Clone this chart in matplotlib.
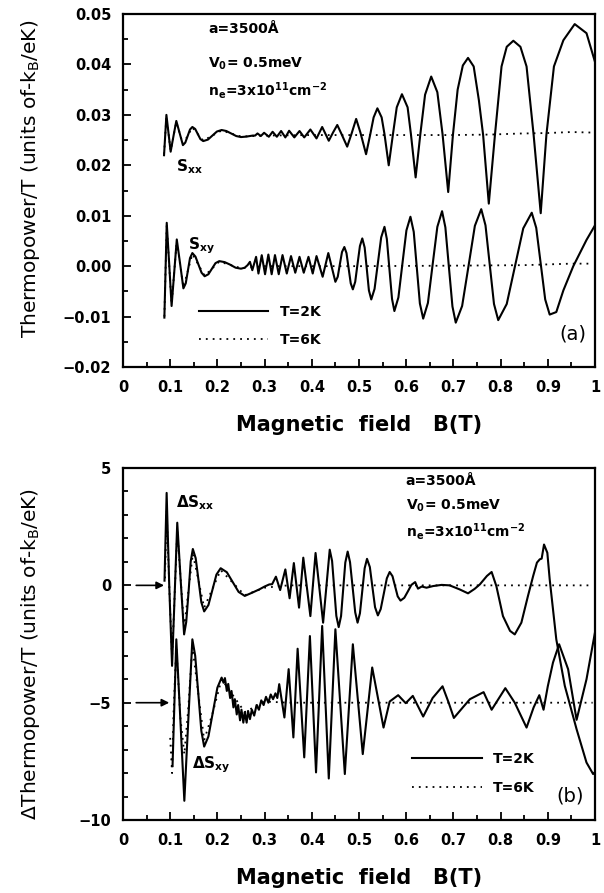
import numpy as np
import matplotlib
matplotlib.use("Agg")
import matplotlib.pyplot as plt
from matplotlib.ticker import MultipleLocator, FuncFormatter

# ---- panel (a): S_xx and S_xy, pairs of (B [T], S/T) ----
sxx_2k = [(0.087, 0.0220), (0.092, 0.0300), (0.101, 0.0227), (0.107, 0.0258), (0.113, 0.0288),
          (0.120, 0.0264), (0.127, 0.0240), (0.132, 0.0245), (0.137, 0.0258), (0.142, 0.0271),
          (0.147, 0.0276), (0.153, 0.0272), (0.1585, 0.0262), (0.164, 0.0252), (0.170, 0.0248),
          (0.180, 0.0251), (0.1895, 0.0259), (0.199, 0.0267), (0.209, 0.0270), (0.219, 0.0268),
          (0.2295, 0.0263), (0.240, 0.0258), (0.250, 0.0256), (0.262, 0.0257), (0.275, 0.0259),
          (0.280, 0.0259), (0.285, 0.02632), (0.292, 0.0258), (0.299, 0.02645), (0.309, 0.02566),
          (0.317, 0.02665), (0.326, 0.02566), (0.335, 0.0268), (0.344, 0.02553), (0.352, 0.02685),
          (0.363, 0.02553), (0.374, 0.0268), (0.384, 0.02553), (0.397, 0.0271), (0.410, 0.02533),
          (0.422, 0.0276), (0.436, 0.02487), (0.445, 0.0265), (0.454, 0.0280), (0.463, 0.0262),
          (0.475, 0.0237), (0.484, 0.0262), (0.494, 0.0292), (0.503, 0.0265), (0.515, 0.0222),
          (0.524, 0.0262), (0.531, 0.0295), (0.539, 0.0313), (0.548, 0.0295), (0.554, 0.0262),
          (0.563, 0.0200), (0.572, 0.0262), (0.580, 0.0315), (0.591, 0.0341), (0.603, 0.0315),
          (0.610, 0.0262), (0.620, 0.0176), (0.630, 0.0262), (0.640, 0.0340), (0.653, 0.0376),
          (0.666, 0.0345), (0.677, 0.0262), (0.689, 0.0147), (0.699, 0.0260), (0.709, 0.0350),
          (0.720, 0.0398), (0.731, 0.0413), (0.743, 0.0396), (0.754, 0.0329), (0.763, 0.0260),
          (0.775, 0.0124), (0.788, 0.0260), (0.802, 0.0396), (0.813, 0.0435), (0.827, 0.0447),
          (0.842, 0.0435), (0.855, 0.0396), (0.870, 0.0260), (0.885, 0.0105), (0.897, 0.0260),
          (0.913, 0.0396), (0.933, 0.0448), (0.957, 0.0480), (0.982, 0.0462), (1.000, 0.0405)]

sxx_6k = [(0.087, 0.0222), (0.092, 0.0296), (0.101, 0.0229), (0.113, 0.0286), (0.127, 0.0242),
          (0.147, 0.0275), (0.170, 0.0249), (0.209, 0.0269), (0.250, 0.0257), (0.300, 0.0259),
          (0.400, 0.0260), (0.500, 0.0260), (0.600, 0.0260), (0.700, 0.0260), (0.780, 0.0261),
          (0.840, 0.0263), (0.900, 0.0264), (0.950, 0.0266), (0.990, 0.0265)]

sxy_2k = [(0.0877, -0.0102), (0.0927, 0.0086), (0.098, 0.0003), (0.103, -0.0079), (0.1085, -0.0013),
          (0.114, 0.0053), (0.121, 0.0005), (0.128, -0.0044), (0.133, -0.0034), (0.1375, -0.0009),
          (0.142, 0.0016), (0.147, 0.0026), (0.1535, 0.0019), (0.160, 0.0003), (0.1665, -0.0013),
          (0.173, -0.0020), (0.181, -0.0016), (0.1885, -0.0005), (0.196, 0.0006), (0.204, 0.0010),
          (0.2155, 0.0008), (0.227, 0.0003), (0.2385, -0.0003), (0.250, -0.0005), (0.258, -0.0003),
          (0.264, 0.0002), (0.269, 0.00086), (0.274, -0.0008), (0.282, 0.00185), (0.287, -0.00146),
          (0.294, 0.00218), (0.301, -0.0016), (0.308, 0.0023), (0.315, -0.0016), (0.322, 0.0022),
          (0.330, -0.0016), (0.338, 0.0022), (0.347, -0.00146), (0.356, 0.0020), (0.365, -0.0013),
          (0.374, 0.00185), (0.383, -0.0013), (0.393, 0.00185), (0.402, -0.00146), (0.410, 0.0020),
          (0.423, -0.0021), (0.435, 0.0026), (0.450, -0.0031), (0.455, -0.0021), (0.4595, 0.0004),
          (0.464, 0.0028), (0.469, 0.0038), (0.4735, 0.0026), (0.478, -0.0004), (0.4825, -0.0034),
          (0.487, -0.0046), (0.492, -0.0031), (0.497, 0.0005), (0.502, 0.0040), (0.507, 0.0055),
          (0.512, 0.0037), (0.5165, -0.0005), (0.521, -0.0048), (0.526, -0.0066), (0.533, -0.0045),
          (0.540, 0.0006), (0.547, 0.0057), (0.554, 0.0078), (0.559, 0.0054), (0.5645, -0.0006),
          (0.570, -0.0065), (0.575, -0.0089), (0.5835, -0.0062), (0.592, 0.0005), (0.6005, 0.0071),
          (0.609, 0.0098), (0.616, 0.0068), (0.6225, -0.0003), (0.629, -0.0074), (0.636, -0.0104),
          (0.646, -0.0073), (0.656, 0.0003), (0.666, 0.0078), (0.676, 0.0109), (0.683, 0.0077),
          (0.6905, -0.0002), (0.698, -0.0080), (0.705, -0.0112), (0.7185, -0.0079), (0.732, 0.0000),
          (0.7455, 0.0080), (0.759, 0.0113), (0.768, 0.0081), (0.777, 0.0003), (0.786, -0.0075),
          (0.795, -0.0107), (0.813, -0.0075), (0.8305, 0.0000), (0.848, 0.0075), (0.866, 0.0106),
          (0.8755, 0.0076), (0.885, 0.0005), (0.8945, -0.0066), (0.904, -0.0096), (0.918, -0.0091),
          (0.933, -0.0048), (0.954, 0.0000), (0.982, 0.0052), (1.000, 0.0081)]

sxy_6k = [(0.0877, -0.0100), (0.0927, 0.0080), (0.103, -0.0075), (0.114, 0.0050), (0.128, -0.0042),
          (0.147, 0.0024), (0.173, -0.0019), (0.204, 0.0009), (0.250, -0.0004), (0.300, 0.0000),
          (0.500, 0.0000), (0.700, 0.0001), (0.850, 0.0002), (0.950, 0.0005), (0.990, 0.0005)]

# ---- panel (b): oscillating parts, Delta S_xy shifted by -5 ----
dsxx_2k = [(0.088, 0.2), (0.0925, 3.94), (0.098, 0.0), (0.104, -3.43), (0.1095, -0.4), (0.115, 2.67),
           (0.122, 0.3), (0.1295, -2.09), (0.134, -1.56), (0.139, -0.27), (0.1435, 1.02), (0.148, 1.55),
           (0.154, 1.16), (0.160, 0.22), (0.166, -0.72), (0.172, -1.11), (0.181, -0.84), (0.1895, -0.19),
           (0.198, 0.46), (0.207, 0.73), (0.220, 0.56), (0.2325, 0.14), (0.245, -0.28), (0.258, -0.45),
           (0.275, -0.30), (0.289, -0.17), (0.300, -0.05), (0.310, 0.04), (0.316, 0.05), (0.324, 0.37),
           (0.333, -0.20), (0.344, 0.68), (0.353, -0.55), (0.362, 0.95), (0.373, -0.95), (0.382, 1.18),
           (0.397, -1.31), (0.408, 1.38), (0.424, -1.59), (0.438, 1.52), (0.443, 1.04), (0.4475, -0.13),
           (0.452, -1.30), (0.457, -1.78), (0.462, -1.31), (0.4665, -0.17), (0.471, 0.97), (0.476, 1.44),
           (0.481, 0.99), (0.4865, -0.08), (0.492, -1.15), (0.497, -1.59), (0.502, -1.19), (0.507, -0.23),
           (0.512, 0.73), (0.517, 1.13), (0.523, 0.78), (0.5285, -0.08), (0.534, -0.93), (0.540, -1.28),
           (0.546, -1.01), (0.5525, -0.36), (0.559, 0.30), (0.565, 0.57), (0.571, 0.39), (0.5765, -0.04),
           (0.582, -0.47), (0.588, -0.65), (0.596, -0.53), (0.6035, -0.26), (0.611, 0.02), (0.619, 0.14),
           (0.625, -0.14), (0.633, -0.05), (0.643, -0.10), (0.657, -0.03), (0.675, 0.02), (0.692, 0.0),
           (0.713, -0.17), (0.731, -0.34), (0.745, -0.15), (0.756, 0.04), (0.771, 0.40), (0.781, 0.57),
           (0.791, -0.03), (0.805, -1.31), (0.820, -1.94), (0.830, -2.09), (0.844, -1.59), (0.858, -0.45),
           (0.869, 0.40), (0.877, 0.97), (0.883, 1.11), (0.887, 1.14), (0.892, 1.74), (0.899, 1.39),
           (0.904, 0.26), (0.918, -2.30), (0.936, -4.28), (0.961, -6.13), (0.982, -7.55), (0.996, -8.04),
           (1.000, -7.95)]

dsxx_6k = [(0.089, 0.3), (0.0925, 3.2), (0.098, 0.0), (0.104, -3.1), (0.115, 2.3), (0.1295, -1.8),
           (0.148, 1.35), (0.172, -0.95), (0.207, 0.65), (0.258, -0.42), (0.300, -0.10), (0.350, 0.0),
           (0.500, 0.0), (0.700, 0.0), (0.900, 0.0), (0.995, 0.0)]

dsxy_2k = [(0.105, -7.7), (0.113, -2.3), (0.1215, -5.7), (0.130, -9.18), (0.1385, -5.7), (0.147, -2.30),
           (0.153, -3.0), (0.1595, -4.59), (0.166, -6.2), (0.172, -6.87), (0.181, -6.44), (0.1905, -5.4),
           (0.200, -4.36), (0.209, -3.93), (0.213, -4.15), (0.216, -3.95), (0.220, -4.5), (0.223, -4.2),
           (0.227, -4.8), (0.230, -4.5), (0.234, -5.2), (0.237, -4.85), (0.241, -5.5), (0.244, -5.1),
           (0.248, -5.75), (0.251, -5.3), (0.255, -5.85), (0.258, -5.4), (0.262, -5.85), (0.265, -5.35),
           (0.269, -5.7), (0.273, -5.3), (0.278, -5.55), (0.283, -5.1), (0.288, -5.3), (0.293, -4.9),
           (0.298, -5.1), (0.303, -4.75), (0.308, -5.0), (0.313, -4.65), (0.318, -4.85), (0.323, -4.6),
           (0.327, -4.8), (0.331, -4.21), (0.342, -5.63), (0.351, -3.57), (0.361, -6.48), (0.370, -2.70),
           (0.384, -7.33), (0.396, -2.16), (0.409, -7.97), (0.422, -1.73), (0.436, -8.23), (0.450, -1.87),
           (0.470, -8.04), (0.487, -2.51), (0.508, -7.19), (0.528, -3.50), (0.552, -6.06), (0.565, -4.95),
           (0.583, -4.68), (0.599, -5.02), (0.614, -4.71), (0.636, -5.59), (0.656, -4.8), (0.677, -4.30),
           (0.690, -5.0), (0.701, -5.65), (0.720, -5.2), (0.735, -4.85), (0.764, -4.55), (0.781, -5.30),
           (0.810, -4.38), (0.830, -5.0), (0.855, -6.06), (0.870, -5.2), (0.882, -4.68), (0.891, -5.30),
           (0.900, -4.3), (0.911, -3.29), (0.924, -2.51), (0.943, -3.57), (0.961, -5.73), (0.982, -4.0),
           (1.000, -2.0)]

dsxy_6k = [(0.100, -6.5), (0.104, -8.0), (0.107, -5.5), (0.113, -2.6), (0.1215, -5.6), (0.130, -7.2),
           (0.1385, -5.2), (0.147, -2.6), (0.1595, -4.6), (0.172, -6.6), (0.1905, -5.4), (0.209, -4.0),
           (0.230, -4.6), (0.258, -5.4), (0.300, -4.95), (0.350, -5.0), (0.600, -5.0), (0.800, -5.0),
           (0.995, -5.0)]

# zero lines of the two curves in (b), marked by arrows
arrow_levels = [0, -5]
arrow_tips = [0.087, 0.098]

params_text = ["a=3500Å", r"V$_\mathbf{0}$= 0.5meV", r"n$_\mathbf{e}$=3x10$^\mathbf{11}$cm$^\mathbf{-2}$"]

plt.rcParams['font.family'] = ['DejaVu Sans']
plt.rcParams['mathtext.fontset'] = 'dejavusans'
plt.rcParams['mathtext.default'] = 'regular'

SOLID = dict(color='black', lw=1.5, solid_joinstyle='round')
DOTTED = dict(color='black', lw=1.3, linestyle=(0, (1, 2.8)))


def minus(fmt):
    return FuncFormatter(lambda v, p: (fmt % (0.0 if abs(v) < 1e-12 else v)).replace('-', '\u2212'))


def style_axes(ax):
    for s in ax.spines.values():
        s.set_linewidth(1.6)
    ax.tick_params(which='both', direction='in', top=False, right=False, width=1.3)
    ax.tick_params(which='major', length=6, labelsize=10.5)
    ax.tick_params(which='minor', length=3.5)
    ax.tick_params(axis='y', pad=8.5)
    ax.tick_params(axis='x', pad=9)
    ax.set_xlim(0, 1)
    ax.xaxis.set_major_locator(MultipleLocator(0.1))
    ax.xaxis.set_minor_locator(MultipleLocator(0.05))
    ax.xaxis.set_major_formatter(FuncFormatter(lambda v, p: '%g' % round(v, 2)))
    ax.set_xlabel('Magnetic  field   B(T)', fontsize=15, fontweight='bold')
    ax.xaxis.set_label_coords(0.5, -0.135)


def bold_ticks(ax):
    plt.setp(ax.get_xticklabels() + ax.get_yticklabels(), fontweight='bold')


def xy(pairs):
    a = np.array(pairs)
    return a[:, 0], a[:, 1]


fig = plt.figure(figsize=(6.04, 8.93), dpi=100)
ax_a = fig.add_axes([0.2036, 0.589, 0.7815, 0.3953])
ax_b = fig.add_axes([0.2036, 0.0817, 0.7815, 0.3942])

# panel (a)
ax_a.plot(*xy(sxx_6k), **DOTTED, label='T=6K')
ax_a.plot(*xy(sxy_6k), **DOTTED)
ax_a.plot(*xy(sxx_2k), **SOLID, label='T=2K')
ax_a.plot(*xy(sxy_2k), **SOLID)
style_axes(ax_a)
ax_a.set_ylim(-0.02, 0.05)
ax_a.yaxis.set_major_locator(MultipleLocator(0.01))
ax_a.yaxis.set_minor_locator(MultipleLocator(0.005))
ax_a.yaxis.set_major_formatter(minus('%.2f'))
bold_ticks(ax_a)

ax_a.text(0.112, 0.0198, r'S$_\mathbf{xx}$', fontsize=11, fontweight='bold', va='center')
ax_a.text(0.137, 0.0040, r'S$_\mathbf{xy}$', fontsize=11, fontweight='bold', va='center')
for txt, yy in zip(params_text, [0.0470, 0.0402, 0.0348]):
    ax_a.text(0.181, yy, txt, fontsize=10, fontweight='bold', va='center')
ax_a.text(0.924, -0.0134, '(a)', fontsize=14, va='center')

h, l = ax_a.get_legend_handles_labels()
ax_a.legend(h[::-1], l[::-1], loc='upper left', bbox_to_anchor=(0.161, 0.176), frameon=False,
            handlelength=5.0, handletextpad=0.8, labelspacing=1.0, borderpad=0, borderaxespad=0,
            prop={'weight': 'bold', 'size': 10})

# panel (b)
ax_b.plot(*xy(dsxx_6k), **DOTTED, label='T=6K')
ax_b.plot(*xy(dsxy_6k), **DOTTED)
ax_b.plot(*xy(dsxx_2k), **SOLID, label='T=2K')
ax_b.plot(*xy(dsxy_2k), **SOLID)
style_axes(ax_b)
ax_b.set_ylim(-10, 5)
ax_b.yaxis.set_major_locator(MultipleLocator(5))
ax_b.yaxis.set_minor_locator(MultipleLocator(1))
ax_b.yaxis.set_major_formatter(minus('%g'))
bold_ticks(ax_b)

for lev, tip in zip(arrow_levels, arrow_tips):
    ax_b.annotate('', xy=(tip, lev), xytext=(0.028, lev),
                  arrowprops=dict(arrowstyle='-|>', color='black', lw=1.2,
                                  mutation_scale=11, shrinkA=0, shrinkB=0))

ax_b.text(0.112, 3.52, r'ΔS$_\mathbf{xx}$', fontsize=11, fontweight='bold', va='center')
ax_b.text(0.147, -7.65, r'ΔS$_\mathbf{xy}$', fontsize=11, fontweight='bold', va='center')
for txt, yy in zip(params_text, [4.44, 3.37, 2.31]):
    ax_b.text(0.599, yy, txt, fontsize=10, fontweight='bold', va='center')
ax_b.text(0.919, -8.97, '(b)', fontsize=14, va='center')

h, l = ax_b.get_legend_handles_labels()
ax_b.legend(h[::-1], l[::-1], loc='upper left', bbox_to_anchor=(0.613, 0.193), frameon=False,
            handlelength=5.0, handletextpad=0.8, labelspacing=1.05, borderpad=0, borderaxespad=0,
            prop={'weight': 'bold', 'size': 10})

# y labels, centred on the left margin
fig.text(0.051, 0.800, r'Thermopower/T (units of-k$_B$/eK)', rotation=90,
         ha='center', va='center', fontsize=14.5)
fig.text(0.051, 0.268, r'ΔThermopower/T (units of-k$_B$/eK)', rotation=90,
         ha='center', va='center', fontsize=14.5)

fig.savefig('out.png', dpi=100)
